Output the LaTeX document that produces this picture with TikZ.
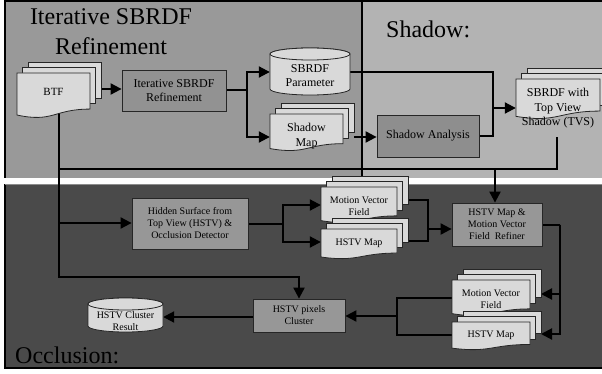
\documentclass[tikz,border=0pt]{standalone}
\usepackage{fontspec}
\setmainfont{Liberation Serif}
\usetikzlibrary{arrows.meta}
\definecolor{panelA}{HTML}{999999}
\definecolor{panelB}{HTML}{B3B3B3}
\definecolor{panelC}{HTML}{4A4A4A}
\definecolor{boxA}{HTML}{929292}
\definecolor{boxB}{HTML}{8E8E8E}
\definecolor{boxC}{HTML}{979797}
\definecolor{paper}{HTML}{D9D9D9}
\pgfdeclarelayer{panels}
\pgfdeclarelayer{wires}
\pgfsetlayers{panels,wires,main}

% stacked document: name, left, top, width, height, text centre y, text, font style
\def\dd{5.5}
\newcommand\multidoc[8]{%
  \foreach \k in {2,1}{%
    \draw[docfill] ({#2+\k*\dd},{#3-\k*\dd}) rectangle ({#2+#4+\k*\dd},{#3+0.8*#5-\k*\dd});
  }
  \draw[docfill] (#2,#3) -- ({#2+#4},#3) -- ({#2+#4},{#3+0.802*#5})
    .. controls ({#2+0.5*#4},{#3+0.802*#5}) and ({#2+0.5*#4},{#3+1.108*#5}) .. (#2,{#3+0.934*#5}) -- cycle;
  \node[doctext, #8, minimum width=#4pt] (#1) at ({#2+0.5*#4},#6) {#7};
  \coordinate (#1b) at ({#2+#4+2*\dd},#6);
}
% database cylinder: name, centre x, top, half width, bottom, text centre y, text, font style
\def\cry{6}
\newcommand\dbcyl[8]{%
  \draw[docfill] ({#2-#4},{#3+\cry}) -- ({#2-#4},{#5-\cry})
    arc[start angle=180, end angle=360, x radius=#4pt, y radius=\cry pt]
    -- ({#2+#4},{#3+\cry})
    arc[start angle=0, end angle=180, x radius=#4pt, y radius=\cry pt] -- cycle;
  \draw[docfill] (#2,{#3+\cry}) ellipse[x radius=#4pt, y radius=\cry pt];
  \node[doctext, #8, minimum width=2*#4pt] (#1) at (#2,#6) {#7};
}

\begin{document}
\begin{tikzpicture}[x=1pt, y=-1pt,
  wire/.style={line width=2pt, draw=black},
  arr/.style={wire, -{Triangle[length=11pt, width=11pt]}},
  procbox/.style={draw=black!85, line width=0.8pt, inner sep=0pt, align=center},
  docfill/.style={draw=black!85, line width=0.8pt, fill=paper},
  doctext/.style={inner sep=0pt, align=center},
  bigtitle/.style={font=\fontsize{24}{30}\selectfont, inner sep=0pt, align=center},
  topfont/.style={font=\fontsize{12}{14.5}\selectfont},
  lowfont/.style={font=\fontsize{10}{12}\selectfont}]
\useasboundingbox (0,0) rectangle (602,374);

% three stage panels
\begin{pgfonlayer}{panels}
  \fill[white] (0,0) rectangle (602,374);
  \fill[panelA] (5,2) rectangle (362,178);
  \fill[panelB] (362,2) rectangle (602,178);
  \fill[panelC] (5,184) rectangle (602,368);
  \draw[line width=2pt] (602,1.5) -- (5,1.5) -- (5,178);
  \draw[line width=1.2pt] (362,2) -- (362,178);
  \draw[line width=1.5pt] (5,184) -- (5,368) -- (602,368);
  \draw[line width=0.6pt, black!45] (5,184.3) -- (602,184.3);
\end{pgfonlayer}

% titles
\node[bigtitle] (tIter) at (111,31.8) {Iterative SBRDF\\Refinement};
\node[bigtitle, anchor=base west] (tShadow) at (386,38) {Shadow:};
\node[bigtitle, anchor=base west] (tOccl) at (15,363) {Occlusion:};

% refinement stage
\multidoc{btf}{17}{73}{73}{45}{92}{BTF}{font=\fontsize{11}{13}\selectfont}
\node[procbox, fill=boxA, topfont, minimum width=104pt, minimum height=41pt] (isr) at (174,90.5) {Iterative SBRDF\\Refinement};
\dbcyl{sbp}{310}{48}{40}{95}{75.5}{SBRDF\\Parameter}{topfont}
\multidoc{smap}{270}{114}{73}{37}{136}{Shadow\\Map}{topfont}

% shadow stage
\node[procbox, fill=boxB, topfont, minimum width=102pt, minimum height=42pt] (sha) at (428,136) {Shadow Analysis};
\multidoc{tvs}{516}{79}{84}{40}{108.5}{SBRDF with\\Top View\\Shadow (TVS)}{topfont}

% occlusion stage
\node[procbox, fill=boxC, lowfont, minimum width=116pt, minimum height=51pt] (hs) at (190,223.5) {Hidden Surface from\\Top View (HSTV) \&\\Occlusion Detector};
\multidoc{mvf1}{321}{187}{76}{36}{206}{Motion Vector\\Field}{lowfont}
\multidoc{hm1}{321}{229}{76}{30}{243}{HSTV Map}{lowfont}
\node[procbox, fill=boxC, lowfont, minimum width=90pt, minimum height=43pt] (ref) at (497,224.5) {HSTV Map \&\\Motion Vector\\Field~~Refiner};
\multidoc{mvf2}{452}{280}{78}{36}{299}{Motion Vector\\Field}{lowfont}
\multidoc{hm2}{452}{322}{78}{28}{335}{HSTV Map}{lowfont}
\node[procbox, fill=boxC, lowfont, minimum width=92pt, minimum height=33pt] (hpc) at (299,315.5) {HSTV pixels\\Cluster};
\dbcyl{hcr}{125.5}{298}{37.5}{332}{321}{HSTV Cluster\\Result}{lowfont}

% connectors
\begin{pgfonlayer}{wires}
  \coordinate (jIsr) at (247,90.5);
  \coordinate (jTvs) at (493,108);
  \coordinate (tvsOut) at (557,137);
  \coordinate (jBus) at (59,169);
  \coordinate (jRef) at (495,169);
  \coordinate (jHs) at (59,223);
  \coordinate (jLow) at (59,277);
  \coordinate (jOut) at (283,223.5);
  \coordinate (jIn) at (428,229);
  \coordinate (jRight) at (560,224.5);
  \coordinate (jLeft) at (397,316);

  \draw[arr] (btfb |- 0,89) -- (isr.west |- 0,89);
  \draw[wire] (isr.east) -- (jIsr);
  \draw[arr] (jIsr) |- (sbp.west |- 0,72);
  \draw[arr] (jIsr) |- (smap.west |- 0,137);
  \draw[arr] (smapb |- 0,137) -- (sha.west |- 0,137);
  \draw[wire] (sbp.east |- 0,72) -| (jTvs);
  \draw[wire] (sha.east) -| (jTvs);
  \draw[arr] (jTvs) -- (tvs.west |- jTvs);

  \draw[wire] (jBus) -| (tvsOut);
  \draw[arr] (btf.center -| jBus) -- (jLow) -| (hpc.north);
  \draw[arr] (jRef) -- (ref.north -| jRef);
  \draw[arr] (jHs) -- (hs.west |- jHs);

  \draw[wire] (hs.east) -- (jOut);
  \draw[arr] (jOut) |- (mvf1.west |- 0,205);
  \draw[arr] (jOut) |- (hm1.west |- 0,242);
  \draw[wire] (mvf1b |- 0,200) -| (jIn);
  \draw[wire] (hm1b |- 0,241) -| (jIn);
  \draw[arr] (jIn) -- (ref.west |- jIn);

  \draw[wire] (ref.east) -- (jRight);
  \draw[arr] (jRight) |- (mvf2b |- 0,294);
  \draw[arr] (jRight) |- (hm2b |- 0,334);
  \draw[wire] (mvf2.west |- 0,298) -| (jLeft);
  \draw[wire] (hm2.west |- 0,335) -| (jLeft);
  \draw[arr] (jLeft) -- (hpc.east |- jLeft);
  \draw[arr] (hpc.west |- 0,317) -- (hcr.east |- 0,317);
\end{pgfonlayer}
\end{tikzpicture}
\end{document}
